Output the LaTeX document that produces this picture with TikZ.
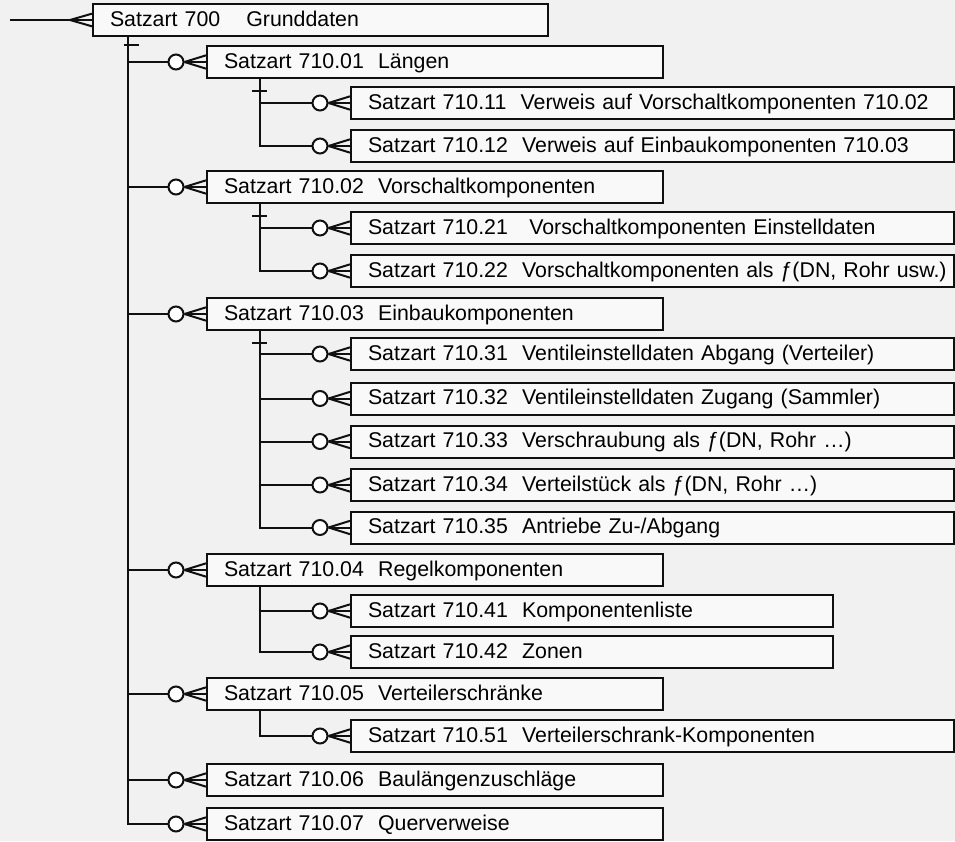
\documentclass[tikz,border=0pt]{standalone}
\usepackage{fontspec}
\setmainfont{Liberation Sans}
\definecolor{bgc}{HTML}{F1F1F1}
\definecolor{boxc}{HTML}{F9F9F9}
\definecolor{ln}{HTML}{101010}
\begin{document}
\begin{tikzpicture}[x=0.75pt,y=-0.75pt,
  box/.style={draw=ln, fill=boxc, line width=1.5pt, anchor=west, inner xsep=0pt, inner ysep=0pt,
    minimum height=24pt, align=left, text height=12pt, text depth=2.6pt,
    execute at begin node={\hspace*{12.75pt}},
    font=\fontsize{16pt}{19pt}\selectfont},
  w0/.style={box, text width=341.25pt},
  w1/.style={box, text width=342pt},
  w2/.style={box, text width=452.25pt},
  w3/.style={box, text width=361.5pt},
  crow/.style={circle, draw=ln, fill=white, line width=1.5pt, minimum size=11.25pt, inner sep=0pt},
  conn/.style={draw=ln, line width=1.5pt},
]
\useasboundingbox (0,0) rectangle (955,841);
\fill[bgc] (0,0) rectangle (955,841);

% boxes
\node[w0] (b700) at (92,20) {Satzart 700\hspace{1.22em}Grunddaten};
\node[w1] (b01) at (206,62) {Satzart 710.01\ \ Längen};
\node[w2] (b11) at (350,103) {Satzart 710.11\ \ Verweis auf Vorschaltkomponenten 710.02};
\node[w2] (b12) at (350,146) {Satzart 710.12\ \ Verweis auf Einbaukomponenten 710.03};
\node[w1] (b02) at (206,187) {Satzart 710.02\ \ Vorschaltkomponenten};
\node[w2] (b21) at (350,228) {Satzart 710.21\ \ \ Vorschaltkomponenten Einstelldaten};
\node[w2] (b22) at (350,271) {Satzart 710.22\ \ Vorschaltkomponenten als ƒ(DN, Rohr usw.)};
\node[w1] (b03) at (206,314) {Satzart 710.03\ \ Einbaukomponenten};
\node[w2] (b31) at (350,354) {Satzart 710.31\ \ Ventileinstelldaten Abgang (Verteiler)};
\node[w2] (b32) at (350,398.5) {Satzart 710.32\ \ Ventileinstelldaten Zugang (Sammler)};
\node[w2] (b33) at (350,441.5) {Satzart 710.33\ \ Verschraubung als ƒ(DN, Rohr …)};
\node[w2] (b34) at (350,485) {Satzart 710.34\ \ Verteilstück als ƒ(DN, Rohr …)};
\node[w2] (b35) at (350,527.5) {Satzart 710.35\ \ Antriebe Zu-/Abgang};
\node[w1] (b04) at (206,570) {Satzart 710.04\ \ Regelkomponenten};
\node[w3] (b41) at (350,611) {Satzart 710.41\ \ Komponentenliste};
\node[w3] (b42) at (350,652) {Satzart 710.42\ \ Zonen};
\node[w1] (b05) at (206,694) {Satzart 710.05\ \ Verteilerschränke};
\node[w2] (b51) at (350,736) {Satzart 710.51\ \ Verteilerschrank-Komponenten};
\node[w1] (b06) at (206,780) {Satzart 710.06\ \ Baulängenzuschläge};
\node[w1] (b07) at (206,824) {Satzart 710.07\ \ Querverweise};

% circles (zero-or-many)
\foreach \n/\y in {01/62,02/187,03/314,04/570,05/694,06/780,07/824}
  \node[crow] (c\n) at (176,\y) {};
\foreach \n/\y in {11/103,12/146,21/228,22/271,31/354,32/398.5,33/441.5,34/485,35/527.5,41/611,42/652,51/736}
  \node[crow] (c\n) at (320,\y) {};

% root connector
\coordinate (st) at (10,20);
\coordinate (ap) at (70,20);
\draw[conn] (st) -- (b700.west);
\draw[conn] (ap) -- ([yshift=4.75pt]b700.west);
\draw[conn] (ap) -- ([yshift=-4.75pt]b700.west);

% trunk x positions
\coordinate (x0) at (128,0);
\coordinate (x1) at (260,0);

% main trunk
\coordinate (t0) at (x0 |- b700.south);
\draw[conn] (t0) -- (x0 |- c07) -- (c07.west);
\draw[conn] ([shift={(-4.5,8)}]t0) -- ([shift={(10.5,8)}]t0);
\foreach \n in {01,02,03,04,05,06}
  \draw[conn] (x0 |- c\n) -- (c\n.west);

% sub trunks
\coordinate (s01) at (x1 |- b01.south);
\draw[conn] (s01) -- (x1 |- c12) -- (c12.west);
\draw[conn] (x1 |- c11) -- (c11.west);
\draw[conn] ([shift={(-8,12)}]s01) -- ([shift={(7,12)}]s01);

\coordinate (s02) at (x1 |- b02.south);
\draw[conn] (s02) -- (x1 |- c22) -- (c22.west);
\draw[conn] (x1 |- c21) -- (c21.west);
\draw[conn] ([shift={(-8,12.5)}]s02) -- ([shift={(7,12.5)}]s02);

\coordinate (s03) at (x1 |- b03.south);
\draw[conn] (s03) -- (x1 |- c35) -- (c35.west);
\foreach \n in {31,32,33,34}
  \draw[conn] (x1 |- c\n) -- (c\n.west);
\draw[conn] ([shift={(-8,12)}]s03) -- ([shift={(7,12)}]s03);

\coordinate (s04) at (x1 |- b04.south);
\draw[conn] (s04) -- (x1 |- c42) -- (c42.west);
\draw[conn] (x1 |- c41) -- (c41.west);

\coordinate (s05) at (x1 |- b05.south);
\draw[conn] (s05) -- (x1 |- c51) -- (c51.west);

% crow's feet
\foreach \c/\b in {01/b01,02/b02,03/b03,04/b04,05/b05,06/b06,07/b07,11/b11,12/b12,21/b21,22/b22,31/b31,32/b32,33/b33,34/b34,35/b35,41/b41,42/b42,51/b51}{
  \draw[conn] (c\c.east) -- (\b.west);
  \draw[conn] (c\c.east) -- ([yshift=5pt]\b.west);
  \draw[conn] (c\c.east) -- ([yshift=-5pt]\b.west);
}
\end{tikzpicture}
\end{document}
